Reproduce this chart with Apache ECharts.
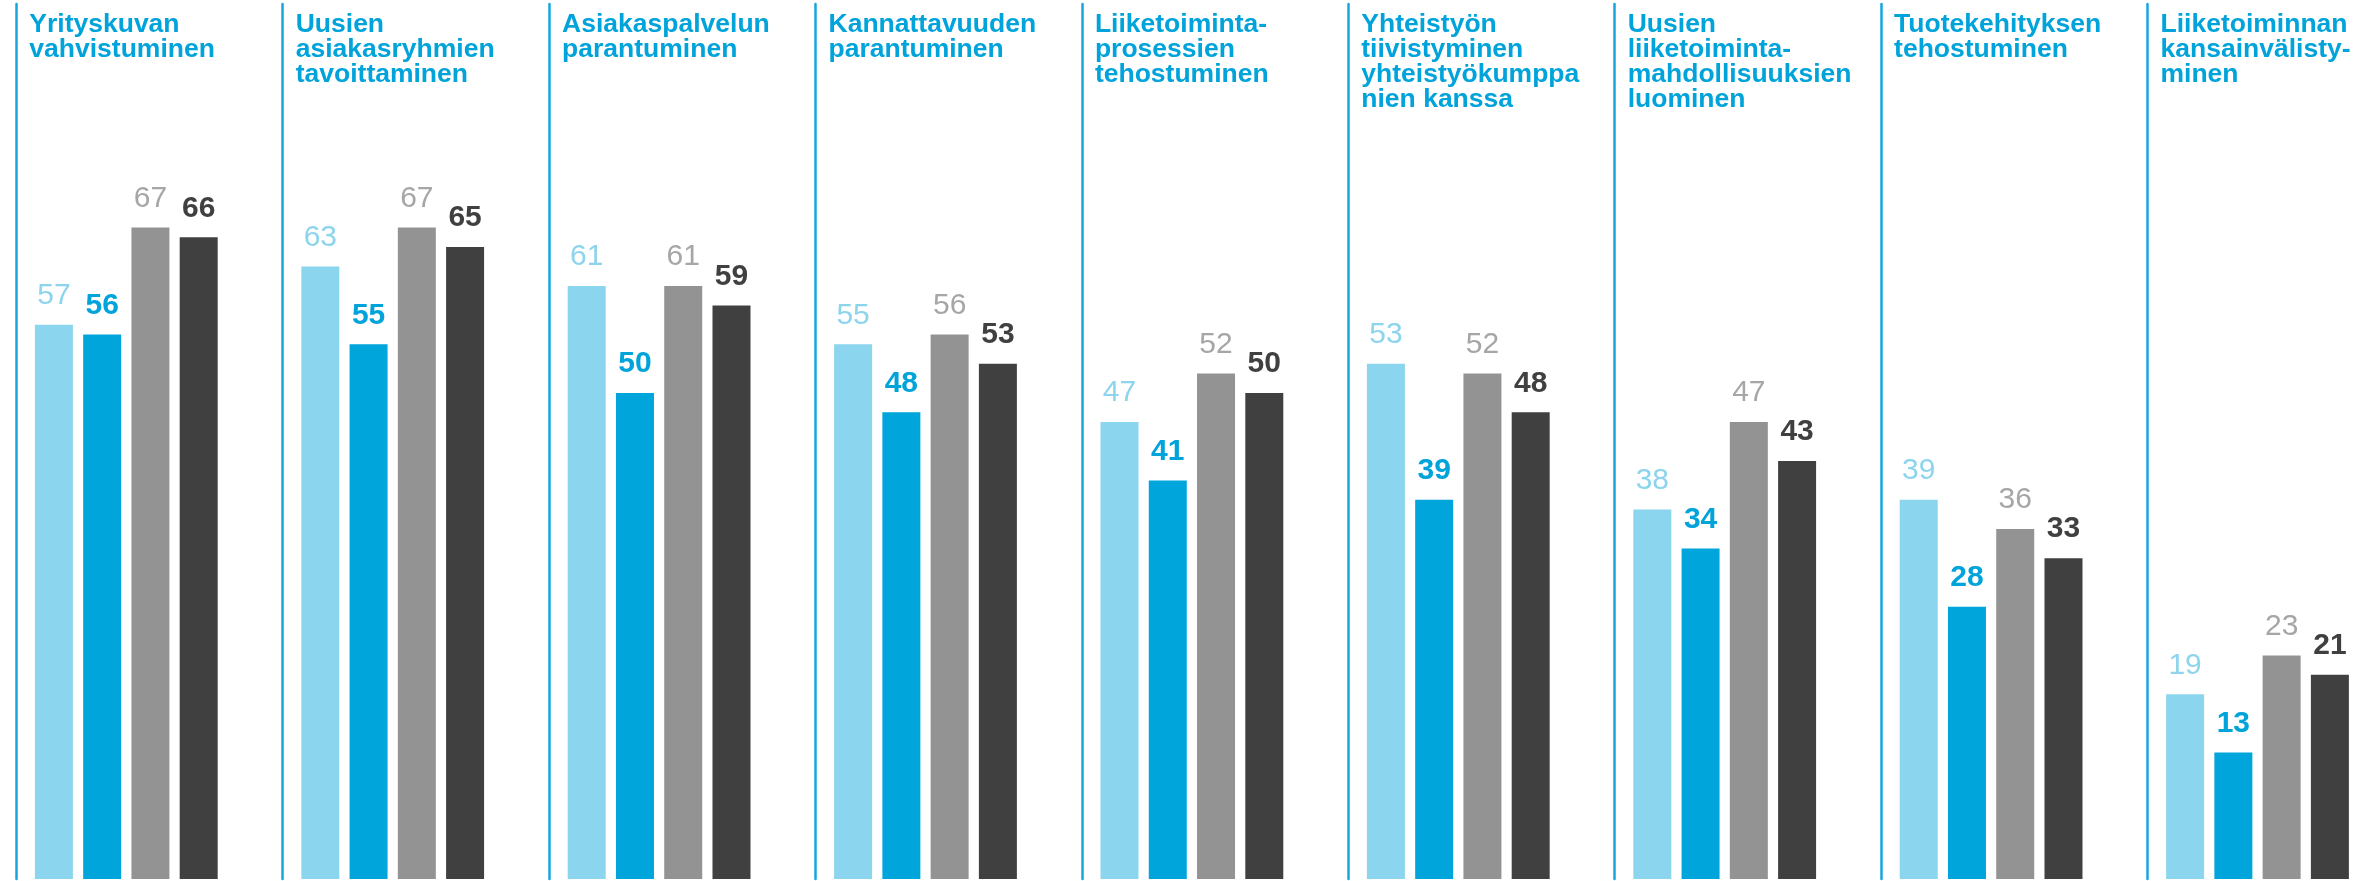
<!DOCTYPE html>
<html>
<head>
<meta charset="utf-8">
<script src="https://cdn.jsdelivr.net/npm/echarts@6/dist/echarts.min.js"></script>
<style>
html,body{margin:0;padding:0;background:#fff;}
#chart{width:2374px;height:881px;}
</style>
</head>
<body>
<div id="chart"></div>
<script>
// ---- data ----
const categories = [
  "Yrityskuvan\nvahvistuminen",
  "Uusien\nasiakasryhmien\ntavoittaminen",
  "Asiakaspalvelun\nparantuminen",
  "Kannattavuuden\nparantuminen",
  "Liiketoiminta-\nprosessien\ntehostuminen",
  "Yhteistyön\ntiivistyminen\nyhteistyökumppa\nnien kanssa",
  "Uusien\nliiketoiminta-\nmahdollisuuksien\nluominen",
  "Tuotekehityksen\ntehostuminen",
  "Liiketoiminnan\nkansainvälisty-\nminen"
];
const seriesA = [57, 63, 61, 55, 47, 53, 38, 39, 19];
const seriesB = [56, 55, 50, 48, 41, 39, 34, 28, 13];
const seriesC = [67, 67, 61, 56, 52, 52, 47, 36, 23];
const seriesD = [66, 65, 59, 53, 50, 48, 43, 33, 21];

// ---- styles ----
const seriesDefs = [
  {name: "A", data: seriesA, color: "#8cd5ee", label: "#8dd4ed", weight: "normal"},
  {name: "B", data: seriesB, color: "#00a5dc", label: "#00a3da", weight: "bold"},
  {name: "C", data: seriesC, color: "#939393", label: "#a6a6a6", weight: "normal"},
  {name: "D", data: seriesD, color: "#404040", label: "#404040", weight: "bold"}
];
const FONT = "'Liberation Sans', Arial, sans-serif";
const panelStart = 16.3, panelStep = 266.4, gridW = 220;

const grids = [], xAxes = [], yAxes = [], titles = [], series = [];
categories.forEach((cat, i) => {
  const left = panelStart + panelStep * i;
  grids.push({left: left, width: gridW, top: 4, bottom: 2});
  xAxes.push({
    type: "category", gridIndex: i, data: [cat], show: false
  });
  yAxes.push({
    type: "value", gridIndex: i, min: 0, max: 90,
    splitLine: {show: false}, axisLabel: {show: false}, axisTick: {show: false},
    axisLine: {show: true, lineStyle: {color: "#16a6dc", width: 2.5}}
  });
  titles.push({
    text: cat, left: left + 13, top: 12, padding: 0,
    textStyle: {fontFamily: FONT, fontSize: 26.5, fontWeight: "bold", color: "#00a3da", lineHeight: 25}
  });
  seriesDefs.forEach((s) => {
    series.push({
      type: "bar", name: s.name, xAxisIndex: i, yAxisIndex: i,
      data: [s.data[i]], barWidth: 38, barGap: "27%",
      itemStyle: {color: s.color},
      label: {
        show: true, position: "top", distance: 14,
        fontFamily: FONT, fontSize: 30, fontWeight: s.weight, color: s.label
      },
      animation: false
    });
  });
});

const chart = echarts.init(document.getElementById("chart"));
chart.setOption({
  animation: false,
  backgroundColor: "#ffffff",
  title: titles,
  grid: grids,
  xAxis: xAxes,
  yAxis: yAxes,
  series: series
});
</script>
</body>
</html>
